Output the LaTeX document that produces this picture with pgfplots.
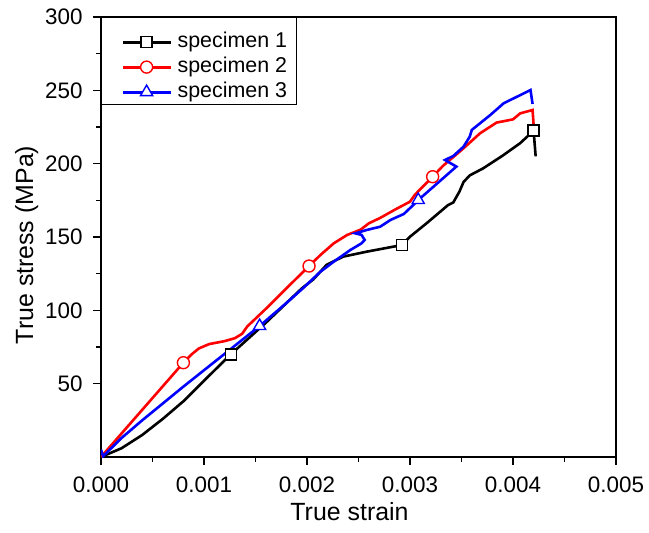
\documentclass[border=0pt]{standalone}
\usepackage{fontspec}
\setmainfont{Liberation Sans}
\usepackage{pgfplots}
\usepackage{pgfplotstable}
\pgfplotsset{compat=1.18}
\pgfplotsset{legline/.style 2 args={legend image code/.code={\path[draw=none] (0bp,#2) -- (12bp,0bp); \fill[#1, draw=none] (12bp,-1.4bp) rectangle (60bp,1.4bp); \draw[##1] plot coordinates {(36bp,0bp)};}}}
\pgfplotstableread{
x y
0 0
0.0002 6
0.0004 15
0.0006 26
0.0008 38
0.001 52
0.00126 70
0.0016 91.5
0.00195 115
0.00206 121
0.00219 131
0.00235 136.6
0.00258 140
0.00292 144.5
0.003 150.2
0.00316 159.3
0.00337 171.8
0.00342 173.5
0.00348 181
0.00352 187.5
0.00358 192
0.00371 196.8
0.0039 205.5
0.00407 214
0.0042 222.5
0.00422 205
}\blackdata
\pgfplotstableread{
x y
0 0
0.0008 64.3
0.00088 70
0.00095 74
0.00105 77
0.0012 79
0.0013 81
0.00137 84
0.00142 89
0.0016 101
0.0018 115
0.00202 130.2
0.00213 137.7
0.00226 145.7
0.00239 151.4
0.00252 155
0.0026 159.3
0.00271 163
0.00285 168.5
0.003 174.1
0.00305 179
0.00322 191.1
0.00332 198.5
0.00352 210.5
0.00368 220.7
0.00384 228
0.004 230.2
0.00407 234.3
0.00419 236.6
0.0042 226.5
}\reddata
\pgfplotstableread{
x y
0 5
0.00002 0.5
0.0002 13
0.0004 25
0.0008 48
0.00154 89.3
0.0018 105
0.00196 115
0.00213 126.3
0.00226 133.2
0.00242 141.1
0.00253 145.7
0.00256 148
0.00253 151.4
0.00247 152.5
0.00258 154.8
0.00271 157
0.00281 161.6
0.00294 165.7
0.00305 173
0.00308 175.2
0.00345 198
0.00334 202.5
0.00342 205.2
0.00352 211.6
0.00358 218.4
0.0036 223
0.00378 233.2
0.00391 241.2
0.00417 250.2
0.00419 240.7
}\bluedata
\begin{document}
\begin{tikzpicture}
\begin{axis}[
  at={(0,0)}, anchor=south west,
  scale only axis, width=515bp, height=440bp,
  xmin=0, xmax=0.005, ymin=0, ymax=300,
  xtick={0,0.001,0.002,0.003,0.004,0.005},
  xticklabels={0.000,0.001,0.002,0.003,0.004,0.005},
  ytick={50,100,150,200,250,300},
  yticklabels={50,100,150,200,250,300},
  minor x tick num=1, minor y tick num=1,
  scaled x ticks=false,
  tick pos=left, tick align=outside,
  major tick length=8bp, minor tick length=4.5bp,
  every tick/.style={black, line width=1.2bp},
  axis line style={line width=1.2bp},
  /pgf/number format/assume math mode=true,
  tick label style={font=\fontsize{22.5}{26}\selectfont},
  xticklabel style={yshift=-8bp},
  yticklabel style={xshift=-7bp},
  label style={font=\fontsize{25}{30}\selectfont},
  xlabel={True strain},
  ylabel={True stress (MPa)},
  xlabel style={xshift=-9bp, yshift=-3bp},
  ylabel style={xshift=-8bp, yshift=0bp},
  legend style={at={(0,1)}, anchor=north west, draw=black, line width=1.2bp,
    font=\fontsize{21.5}{25}\selectfont, legend cell align=left,
    inner xsep=9bp, inner ysep=2.5bp, row sep=5.5bp, column sep=7bp,
    nodes={inner sep=0pt, text height=15bp, text depth=4.5bp}},
]
\addplot[black, line width=2.6bp, forget plot] table {\blackdata};
\addplot[red, line width=2.6bp, forget plot] table {\reddata};
\addplot[blue, line width=2.6bp, forget plot] table {\bluedata};
\addplot[black, only marks, mark=square*, mark size=5.5bp, mark options={fill=white, line width=1.4bp}, legline={black}{22bp}]
  coordinates {(0.00126,70) (0.00292,144.5) (0.0042,222.5)};
\addlegendentry{specimen 1}
\addplot[red, only marks, mark=*, mark size=6bp, mark options={fill=white, line width=1.4bp}, legline={red}{0bp}]
  coordinates {(0.0008,64.3) (0.00202,130.2) (0.00322,191.1)};
\addlegendentry{specimen 2}
\addplot[blue, only marks, mark=triangle*, mark size=7bp, mark options={fill=white, line width=1.4bp}, legline={blue}{0bp}]
  coordinates {(0.00154,89.3) (0.00308,175.2)};
\addlegendentry{specimen 3}
\end{axis}
\pgfresetboundingbox
\useasboundingbox (-101bp,-76bp) rectangle (548bp,457bp);
\end{tikzpicture}
\end{document}
